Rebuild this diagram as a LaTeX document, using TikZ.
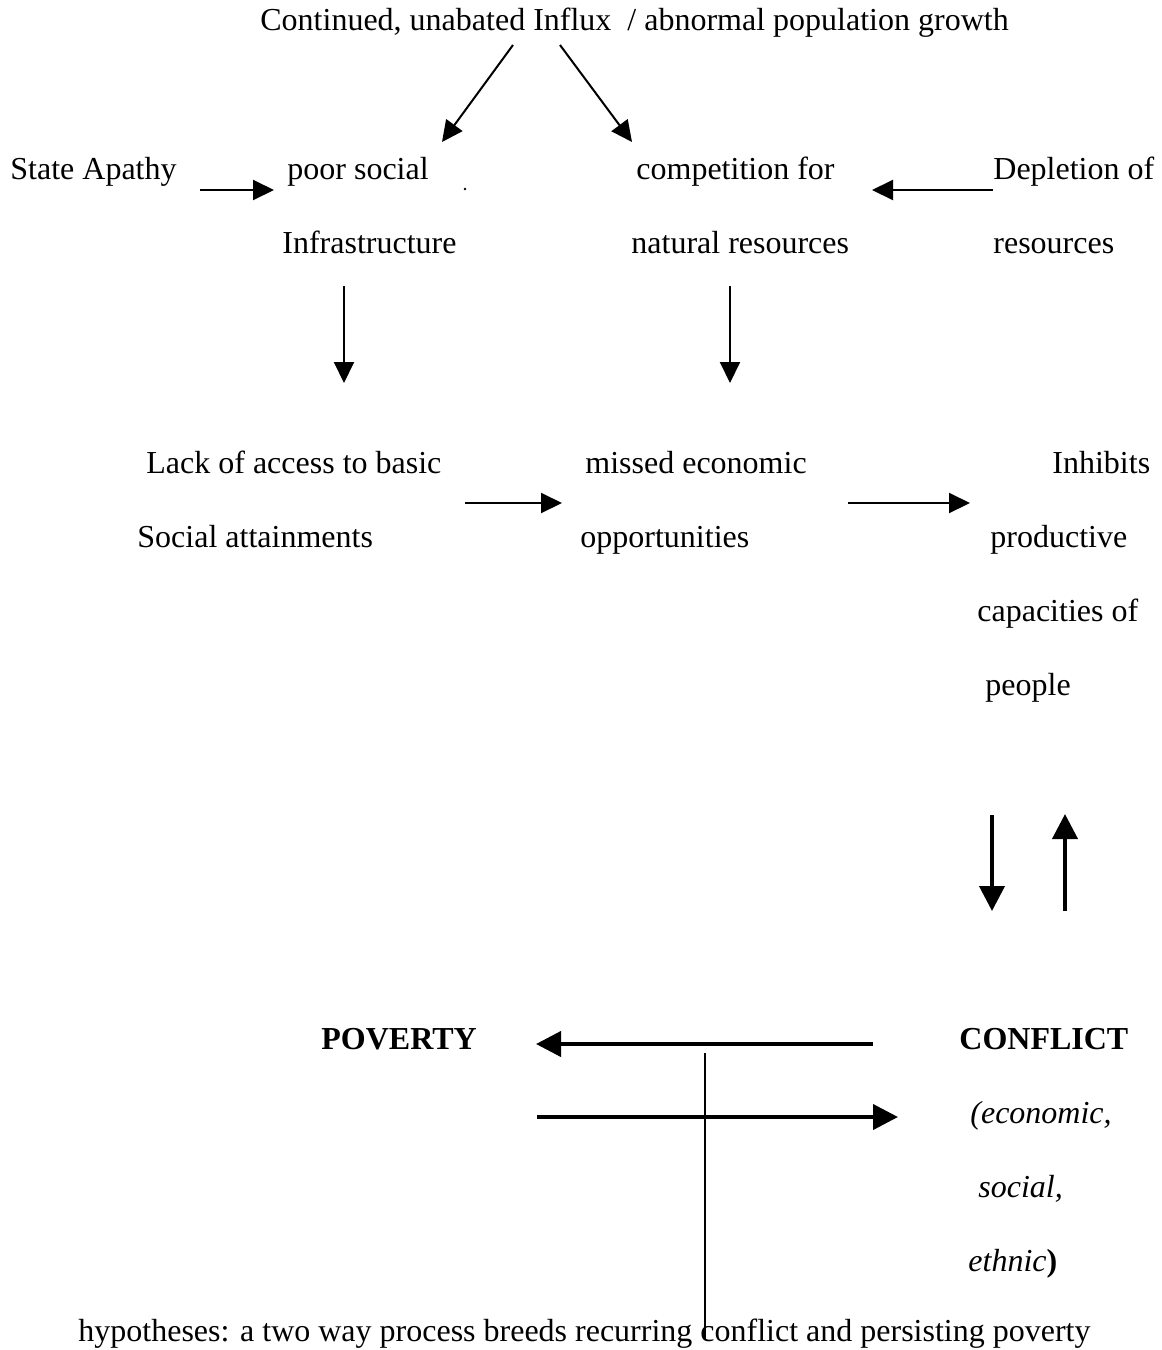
\documentclass[tikz,border=0pt]{standalone}
\usepackage{fontspec}
\setmainfont{Liberation Serif}
\usetikzlibrary{arrows.meta}
\begin{document}
\begin{tikzpicture}[x=0.5pt,y=-0.5pt,
  txt/.style={anchor=base west,inner sep=0pt,font=\fontsize{16}{19}\selectfont},
  thinarrow/.style={line width=1pt,-{Triangle[length=10.5pt,width=10pt]}},
  thickarrow/.style={line width=2pt,-{Triangle[length=12.5pt,width=12.5pt]}},
  plainline/.style={line width=1pt}]
\useasboundingbox (0,0) rectangle (1162,1350);
% texts
\node[txt] (top) at (260,30) {Continued, unabated Influx\ \ / abnormal population growth};
\node[txt] (state) at (10,179) {State Apathy};
\node[txt] (poor) at (287,179) {poor social};
\node[circle,fill,inner sep=0pt,minimum size=1.3pt] (dot) at (465,189) {};
\node[txt] (comp) at (636,179) {competition for};
\node[txt] (depl) at (993,179) {Depletion of};
\node[txt] (infra) at (282,253) {Infrastructure};
\node[txt] (natres) at (631,253) {natural resources};
\node[txt] (res) at (993,253) {resources};
\node[txt] (lack) at (146,473) {Lack of access to basic};
\node[txt] (missed) at (585,473) {missed economic};
\node[txt] (inhib) at (1052,473) {Inhibits};
\node[txt] (socatt) at (137,547) {Social attainments};
\node[txt] (opp) at (580,547) {opportunities};
\node[txt] (prod) at (990,547) {productive};
\node[txt] (capac) at (977,621) {capacities of};
\node[txt] (people) at (985,695) {people};
\node[txt,font=\fontsize{16}{19}\selectfont\bfseries] (pov) at (321,1049) {POVERTY};
\node[txt,font=\fontsize{16}{19}\selectfont\bfseries] (conf) at (959,1049) {CONFLICT};
\node[txt,font=\fontsize{16}{19}\selectfont\itshape] (econ) at (970,1123) {(economic,};
\node[txt,font=\fontsize{16}{19}\selectfont\itshape] (soc) at (978,1197) {social,};
\node[txt] (eth) at (968,1271) {\textit{ethnic}\textbf{)}};
\node[txt] (hyp) at (78,1341) {hypotheses: a two way process breeds recurring conflict and persisting poverty};
% connector end points
\coordinate (d1s) at (513,45);  \coordinate (d1e) at (442,142);
\coordinate (d2s) at (560,45);  \coordinate (d2e) at (632,142);
\coordinate (sa1) at (200,190); \coordinate (sa2) at (274,190);
\coordinate (dp1) at (993,190); \coordinate (dp2) at (872,190);
\coordinate (v1s) at (344,286); \coordinate (v1e) at (344,383);
\coordinate (v2s) at (730,286); \coordinate (v2e) at (730,383);
\coordinate (h1s) at (465,503); \coordinate (h1e) at (562,503);
\coordinate (h2s) at (848,503); \coordinate (h2e) at (970,503);
\coordinate (cd1) at (992,815); \coordinate (cd2) at (992,911);
\coordinate (cu1) at (1065,911); \coordinate (cu2) at (1065,814);
\coordinate (pa1) at (873,1044); \coordinate (pa2) at (536,1044);
\coordinate (pb1) at (537,1117); \coordinate (pb2) at (898,1117);
\coordinate (vl1) at (705,1053); \coordinate (vl2) at (705,1340);
% connectors
\draw[thinarrow] (d1s) -- (d1e);
\draw[thinarrow] (d2s) -- (d2e);
\draw[thinarrow] (sa1) -- (sa2);
\draw[thinarrow] (dp1) -- (dp2);
\draw[thinarrow] (v1s) -- (v1e);
\draw[thinarrow] (v2s) -- (v2e);
\draw[thinarrow] (h1s) -- (h1e);
\draw[thinarrow] (h2s) -- (h2e);
\draw[thickarrow] (cd1) -- (cd2);
\draw[thickarrow] (cu1) -- (cu2);
\draw[thickarrow] (pa1) -- (pa2);
\draw[thickarrow] (pb1) -- (pb2);
\draw[plainline] (vl1) -- (vl2);
\end{tikzpicture}
\end{document}
